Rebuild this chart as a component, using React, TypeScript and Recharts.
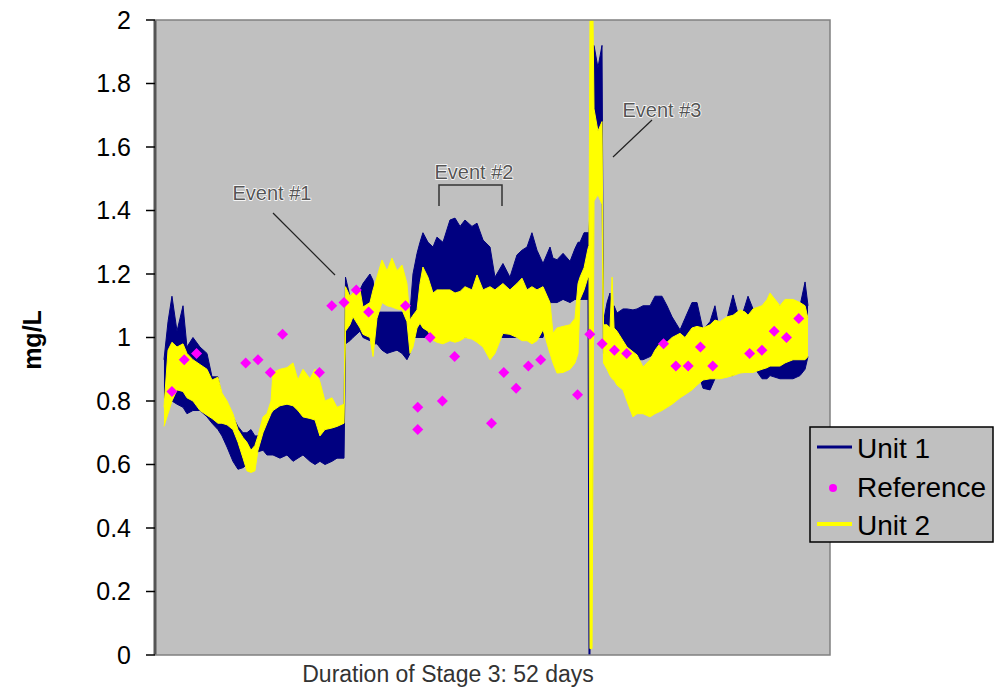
import { ComposedChart, Area, Scatter, XAxis, YAxis, CartesianGrid } from "recharts";

// sample positions (days) and envelope of each analyser trace
const days = [
  0.35, 0.68, 1.0, 1.41, 1.9, 2.22, 2.71, 3.28, 3.85, 4.26, 4.74, 5.07, 5.48, 5.96, 6.37, 6.78, 7.1, 7.43, 7.75, 8.0,
  8.41, 8.73, 9.06, 9.22, 9.79, 10.36, 10.85, 11.25, 11.66, 12.23, 12.64, 13.04, 13.45, 14.02, 14.43, 15.0, 15.12, 15.48, 15.73, 16.3,
  16.54, 17.11, 17.36, 17.68, 18.09, 18.5, 18.9, 19.31, 19.72, 20.12, 20.37, 20.61, 20.94, 21.18, 21.42, 21.83, 22.24, 22.56, 23.05, 23.62,
  24.03, 24.44, 24.84, 25.41, 25.82, 26.31, 26.88, 27.28, 27.93, 28.5, 29.07, 29.48, 29.89, 30.29, 30.7, 31.19, 31.76, 32.0, 32.33, 32.82,
  33.39, 33.79, 34.04, 34.2, 34.53, 34.85, 34.93, 35.01, 35.18, 35.26, 35.34, 35.66, 35.99, 36.11, 36.4, 36.64, 36.81, 36.97, 37.21, 37.7,
  38.02, 38.51, 38.84, 39.33, 39.9, 40.3, 40.87, 41.28, 41.69, 42.34, 42.74, 43.31, 43.72, 44.21, 44.78, 45.18, 45.59, 46.16, 46.65, 47.22,
  47.63, 47.87, 48.28, 49.01, 49.42, 49.66, 50.47, 50.88, 51.53, 52.1, 52.51, 52.75,
];

const unit1Hi = [
  0.93, 1.05, 1.13, 1.02, 1.1, 0.97, 1.0, 0.97, 0.95, 0.876, 0.876, 0.81, 0.79, 0.75, 0.72, 0.7, 0.7, 0.71, 0.69, 0.69,
  0.71, 0.75, 0.78, 0.79, 0.8, 0.81, 0.8, 0.79, 0.77, 0.765, 0.76, 0.71, 0.73, 0.735, 0.74, 0.75, 1.19, 1.13, 1.14, 1.15,
  1.17, 1.2, 1.18, 1.08, 1.08, 1.08, 1.08, 1.08, 1.08, 1.08, 1.08, 1.2, 1.265, 1.3, 1.33, 1.3, 1.285, 1.316, 1.3, 1.37,
  1.376, 1.35, 1.37, 1.35, 1.36, 1.307, 1.285, 1.19, 1.233, 1.19, 1.26, 1.275, 1.285, 1.33, 1.275, 1.233, 1.285, 1.25, 1.245, 1.265,
  1.24, 1.28, 1.3, 1.3, 1.33, 1.33, 1.33, 1.4, 1.6, 1.92, 1.92, 1.85, 1.92, 1.05, 1.11, 1.14, 1.06, 1.1, 1.077, 1.09,
  1.09, 1.087, 1.09, 1.1, 1.1, 1.13, 1.13, 1.1, 1.065, 1.024, 1.06, 1.11, 1.11, 1.024, 1.05, 1.1, 1.013, 1.06, 1.134, 1.05,
  1.1, 1.13, 1.09, 1.08, 1.08, 1.08, 1.1, 1.08, 1.09, 1.1, 1.175, 1.1,
];

const unit1Lo = [
  0.81, 0.8, 0.8, 0.79, 0.78, 0.76, 0.77, 0.77, 0.75, 0.73, 0.71, 0.69, 0.655, 0.61, 0.585, 0.59, 0.6, 0.62, 0.63, 0.64,
  0.645, 0.63, 0.63, 0.63, 0.62, 0.63, 0.61, 0.62, 0.63, 0.61, 0.6, 0.61, 0.6, 0.61, 0.62, 0.62, 0.98, 0.99, 1.0, 1.02,
  1.0, 0.99, 0.98, 0.98, 0.96, 0.95, 0.955, 0.96, 0.95, 0.93, 0.95, 1.0, 1.0, 1.0, 1.0, 1.0, 1.0, 1.0, 1.0, 1.0,
  1.0, 1.0, 1.0, 1.0, 1.0, 1.0, 1.0, 1.0, 1.0, 1.0, 1.0, 1.0, 1.0, 1.0, 1.0, 1.0, 1.11, 1.11, 1.11, 1.12,
  1.11, 1.12, 1.12, 1.12, 1.12, 1.12, 0.0, 0.0, 0.5, 1.5, 1.5, 1.5, 1.5, 0.95, 0.95, 0.95, 0.95, 0.95, 0.95, 0.95,
  0.95, 0.94, 0.93, 0.93, 0.94, 0.95, 0.97, 0.97, 0.96, 0.95, 0.95, 0.95, 0.9, 0.84, 0.835, 0.87, 0.88, 0.88, 0.88, 0.9,
  0.9, 0.9, 0.91, 0.87, 0.87, 0.88, 0.87, 0.87, 0.87, 0.88, 0.9, 0.94,
];

const unit2Hi = [
  0.78, 0.96, 0.985, 0.97, 0.98, 0.95, 0.93, 0.915, 0.9, 0.866, 0.875, 0.825, 0.8, 0.76, 0.71, 0.685, 0.67, 0.645, 0.66, 0.69,
  0.75, 0.76, 0.8, 0.89, 0.9, 0.905, 0.92, 0.866, 0.9, 0.87, 0.9, 0.86, 0.8, 0.81, 0.78, 0.79, 1.16, 1.13, 1.14, 1.15,
  1.096, 1.11, 1.15, 1.19, 1.244, 1.21, 1.25, 1.21, 1.228, 1.17, 1.055, 1.07, 1.087, 1.17, 1.222, 1.19, 1.14, 1.15, 1.15, 1.15,
  1.14, 1.145, 1.16, 1.15, 1.197, 1.15, 1.16, 1.15, 1.17, 1.15, 1.17, 1.187, 1.15, 1.16, 1.15, 1.16, 1.11, 1.013, 1.03, 1.035,
  1.04, 1.06, 1.17, 1.19, 1.22, 1.28, 1.29, 2.0, 2.0, 2.0, 1.72, 1.65, 1.68, 1.04, 1.04, 1.03, 1.19, 1.03, 1.02, 0.99,
  0.97, 0.955, 0.945, 0.907, 0.93, 0.96, 0.99, 0.985, 1.0, 1.013, 1.0, 1.03, 1.035, 1.03, 1.04, 1.055, 1.05, 1.065, 1.07, 1.087,
  1.08, 1.07, 1.09, 1.1, 1.12, 1.14, 1.1, 1.12, 1.12, 1.11, 1.1, 1.06,
];

const unit2Lo = [
  0.72, 0.76, 0.8, 0.835, 0.83, 0.81, 0.8, 0.77, 0.755, 0.745, 0.73, 0.73, 0.725, 0.71, 0.67, 0.62, 0.58, 0.575, 0.58, 0.645,
  0.7, 0.73, 0.76, 0.77, 0.785, 0.79, 0.785, 0.77, 0.75, 0.745, 0.74, 0.69, 0.71, 0.715, 0.72, 0.73, 1.02, 1.04, 1.065, 1.03,
  1.01, 1.0, 0.94, 1.06, 1.11, 1.1, 1.096, 1.09, 1.087, 1.05, 0.95, 0.97, 1.03, 1.045, 1.03, 1.02, 0.992, 0.985, 0.98, 0.99,
  0.985, 0.99, 1.0, 0.995, 0.985, 0.97, 0.93, 0.95, 1.013, 1.01, 1.0, 0.99, 0.99, 0.98, 0.99, 1.024, 0.95, 0.92, 0.888, 0.89,
  0.9, 0.92, 0.95, 1.12, 1.15, 1.19, 1.19, 0.02, 0.02, 0.68, 1.43, 1.45, 1.42, 0.92, 0.9, 0.88, 0.87, 0.866, 0.85, 0.835,
  0.8, 0.75, 0.76, 0.76, 0.75, 0.76, 0.77, 0.78, 0.79, 0.81, 0.82, 0.835, 0.85, 0.866, 0.87, 0.87, 0.87, 0.875, 0.88, 0.888,
  0.89, 0.89, 0.89, 0.9, 0.905, 0.91, 0.91, 0.92, 0.93, 0.93, 0.93, 0.94,
];

// reference (grab sample) results
const refDays = [1, 2, 3, 7, 8, 9, 10, 13, 14, 15, 16, 17, 20, 21, 21, 22, 23, 24, 27, 28, 29, 30, 31, 34, 35, 36, 37, 38, 41, 42, 43, 44, 45, 48, 49, 50, 51, 52];
const refValues = [
  0.83, 0.93, 0.95, 0.92, 0.93, 0.89, 1.01, 0.89, 1.1, 1.11, 1.15, 1.08, 1.1, 0.78, 0.71, 1.0, 0.8, 0.94, 0.73, 0.89,
  0.84, 0.91, 0.93, 0.82, 1.01, 0.98, 0.96, 0.95, 0.98, 0.91, 0.91, 0.97, 0.91, 0.95, 0.96, 1.02, 1.0, 1.06,
];

const yTicks = [0, 0.2, 0.4, 0.6, 0.8, 1, 1.2, 1.4, 1.6, 1.8, 2];

const bandRows = days.map((day, i) => ({
  day,
  u1: [unit1Lo[i], unit1Hi[i]],
  u2: [unit2Lo[i], unit2Hi[i]],
}));
const refRows = refDays.map((day, i) => ({ day, ref: refValues[i] }));

const FONT = '"Liberation Sans", Arial, Helvetica, sans-serif';
const NAVY = "#000080";
const YELLOW = "#FFFF00";
const MAGENTA = "#FF00FF";

function Diamond(props: any) {
  const { cx, cy } = props;
  if (cx == null || cy == null) return null;
  const r = 5.5;
  return (
    <polygon
      points={`${cx},${cy - r} ${cx + r},${cy} ${cx},${cy + r} ${cx - r},${cy}`}
      fill={MAGENTA}
    />
  );
}

const eventText = {
  fontFamily: FONT,
  fontSize: 20,
  fill: "#555",
  stroke: "#fff",
  strokeWidth: 1.5,
  paintOrder: "stroke" as const,
  textAnchor: "middle" as const,
};

export default function App() {
  return (
    <div style={{ position: "absolute", left: 0, top: 0, width: 995, height: 690, background: "#fff" }}>
      <ComposedChart
        width={995}
        height={690}
        data={bandRows}
        margin={{ top: 20, right: 165, bottom: 35, left: 0 }}
      >
        <CartesianGrid fill="#C0C0C0" horizontal={false} vertical={false} />
        <XAxis type="number" dataKey="day" domain={[-0.38, 54.54]} hide allowDataOverflow />
        <YAxis
          width={155}
          domain={[0, 2]}
          ticks={yTicks}
          interval={0}
          allowDataOverflow
          tickSize={9}
          tickMargin={15}
          axisLine={{ stroke: "#555", strokeWidth: 3 }}
          tickLine={{ stroke: "#000", strokeWidth: 1.5 }}
          tick={{ fill: "#000", fontSize: 25, fontFamily: FONT }}
        />
        <Area
          type="linear"
          dataKey="u1"
          stroke={NAVY}
          strokeWidth={1}
          fill={NAVY}
          fillOpacity={1}
          dot={false}
          activeDot={false}
          isAnimationActive={false}
        />
        <Area
          type="linear"
          dataKey="u2"
          stroke={YELLOW}
          strokeWidth={1}
          fill={YELLOW}
          fillOpacity={1}
          dot={false}
          activeDot={false}
          isAnimationActive={false}
        />
        <Scatter data={refRows} dataKey="ref" shape={Diamond} isAnimationActive={false} />
      </ComposedChart>

      <svg
        width={995}
        height={690}
        style={{ position: "absolute", left: 0, top: 0, pointerEvents: "none" }}
      >
        {/* plot frame */}
        <path d="M155,20 H830 V655 H155" fill="none" stroke="#808080" strokeWidth={1.5} />

        {/* annotations */}
        <text x={272} y={200} {...eventText}>Event #1</text>
        <line x1={273} y1={213} x2={335} y2={275} stroke="#222" strokeWidth={1.2} />
        <text x={474} y={179} {...eventText}>Event #2</text>
        <path d="M439,206 V185 H502 V206" fill="none" stroke="#333" strokeWidth={1.5} />
        <text x={662} y={117} {...eventText}>Event #3</text>
        <line x1={652} y1={120} x2={613} y2={157} stroke="#222" strokeWidth={1.2} />

        {/* axis titles */}
        <text
          x={0}
          y={0}
          transform="translate(41,340) rotate(-90)"
          textAnchor="middle"
          fontFamily={FONT}
          fontSize={25}
          fontWeight="bold"
          fill="#000"
        >
          mg/L
        </text>
        <text x={448} y={682} textAnchor="middle" fontFamily={FONT} fontSize={23} fill="#333">
          Duration of Stage 3: 52 days
        </text>

        {/* legend */}
        <rect x={810} y={427} width={183} height={115} fill="#C0C0C0" stroke="#000" strokeWidth={1.5} />
        <line x1={817} y1={447} x2={852} y2={447} stroke={NAVY} strokeWidth={3} />
        <text x={857} y={458} fontFamily={FONT} fontSize={28} fill="#000">Unit 1</text>
        <circle cx={833} cy={488} r={4} fill={MAGENTA} />
        <text x={857} y={497} fontFamily={FONT} fontSize={28} fill="#000">Reference</text>
        <line x1={817} y1={524} x2={852} y2={524} stroke={YELLOW} strokeWidth={4} />
        <text x={857} y={535} fontFamily={FONT} fontSize={28} fill="#000">Unit 2</text>
      </svg>
    </div>
  );
}
